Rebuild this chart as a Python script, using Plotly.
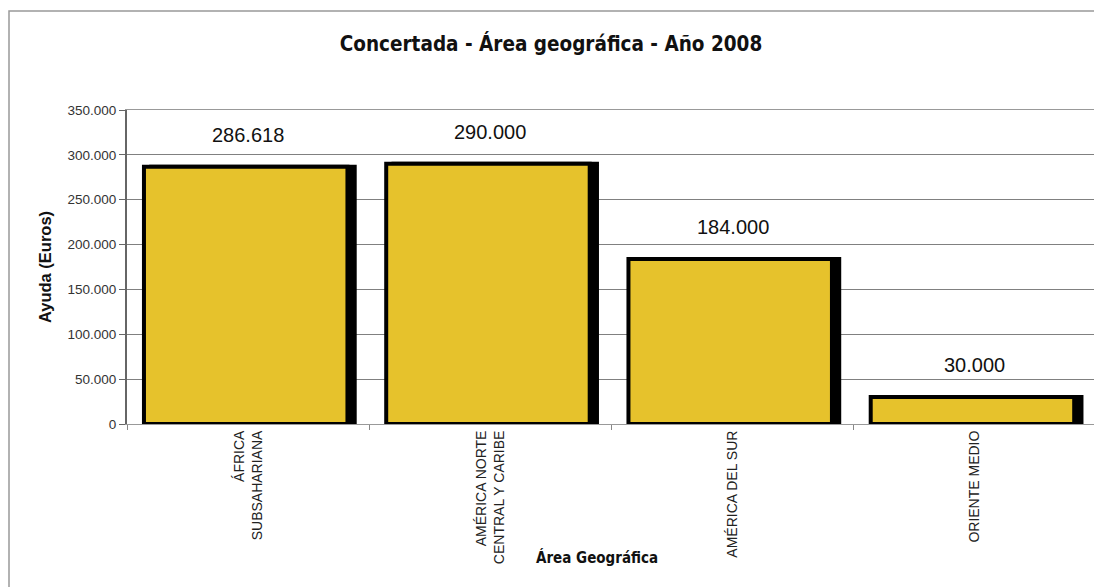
import plotly.graph_objects as go

categories = ["ÁFRICA<br>SUBSAHARIANA", "AMÉRICA NORTE<br>CENTRAL Y CARIBE", "AMÉRICA DEL SUR", "ORIENTE MEDIO"]
values = [286618, 290000, 184000, 30000]
y_ticks = [0, 50000, 100000, 150000, 200000, 250000, 300000, 350000]

# page body has an 8px margin; the figure is sized to fit the window
OFF = 8
W, H = 1102 - OFF, 587 - OFF
L, R, T = 127 - OFF, 6, 110 - OFF
B = H - (424 - OFF)
pw, ph = W - L - R, H - T - B

def px_x(x):
    return (x - OFF - L) / pw

def px_y(y):
    return (H - B - (y - OFF)) / ph

NARROW = "DejaVu Sans Condensed, Arial Narrow, Liberation Sans"
ARIAL = "Liberation Sans, Arial"

fig = go.Figure()
# shadow
fig.add_trace(go.Bar(
    x=categories, y=values, width=0.84, offset=-0.40,
    marker=dict(color="black", line=dict(color="black", width=4)),
    hoverinfo="skip", showlegend=False,
))
# main bars
fig.add_trace(go.Bar(
    x=categories, y=values, width=0.84, offset=-0.43,
    marker=dict(color="#E6C22C", line=dict(color="black", width=4)),
    showlegend=False,
))

for c, v in zip(categories, values):
    fig.add_annotation(
        x=c, y=v, text=f"{v:,}".replace(",", "."), showarrow=False,
        yshift=32, font=dict(family=ARIAL, size=20, color="#111"),
    )

# x-axis title placed like the original (between the rotated labels)
fig.add_annotation(
    text="<b>Área Geográfica</b>", xref="paper", yref="paper",
    x=px_x(597), y=px_y(557), xanchor="center", yanchor="middle",
    showarrow=False, font=dict(family=NARROW, size=15, color="#111"),
)

fig.update_layout(
    width=W, height=H,
    margin=dict(l=L, r=R, t=T, b=B),
    paper_bgcolor="white", plot_bgcolor="white",
    separators=",.",
    barmode="overlay",
    title=dict(
        text="<b>Concertada - Área geográfica - Año 2008</b>",
        x=(551 - OFF) / W, xanchor="center", y=1 - (44 - OFF) / H, yanchor="middle",
        font=dict(family=NARROW, size=20.5, color="#111"),
    ),
    xaxis=dict(
        tickangle=-90, tickson="boundaries", ticks="outside", ticklen=5,
        tickcolor="#888", showline=True, linecolor="#999", linewidth=1,
        mirror=True,
        tickfont=dict(family=ARIAL, size=14, color="#222"),
        showgrid=False,
    ),
    yaxis=dict(
        range=[0, 350000], tickvals=y_ticks, tickformat=",d",
        ticks="outside", ticklen=6, tickcolor="#666",
        showline=True, linecolor="#666", linewidth=2,
        showgrid=True, gridcolor="#808080", gridwidth=1,
        tickfont=dict(family=ARIAL, size=13.5, color="#333"),
        title=dict(text="<b>Ayuda (Euros)</b>", standoff=12,
                   font=dict(family=ARIAL, size=16.5, color="#111")),
        zeroline=False,
    ),
    shapes=[dict(
        type="rect", xref="paper", yref="paper",
        x0=px_x(OFF + 1), x1=px_x(1099), y0=px_y(620), y1=px_y(11),
        line=dict(color="#999", width=1.5), fillcolor="rgba(0,0,0,0)", layer="below",
    )],
)

fig.write_html("out.html")
